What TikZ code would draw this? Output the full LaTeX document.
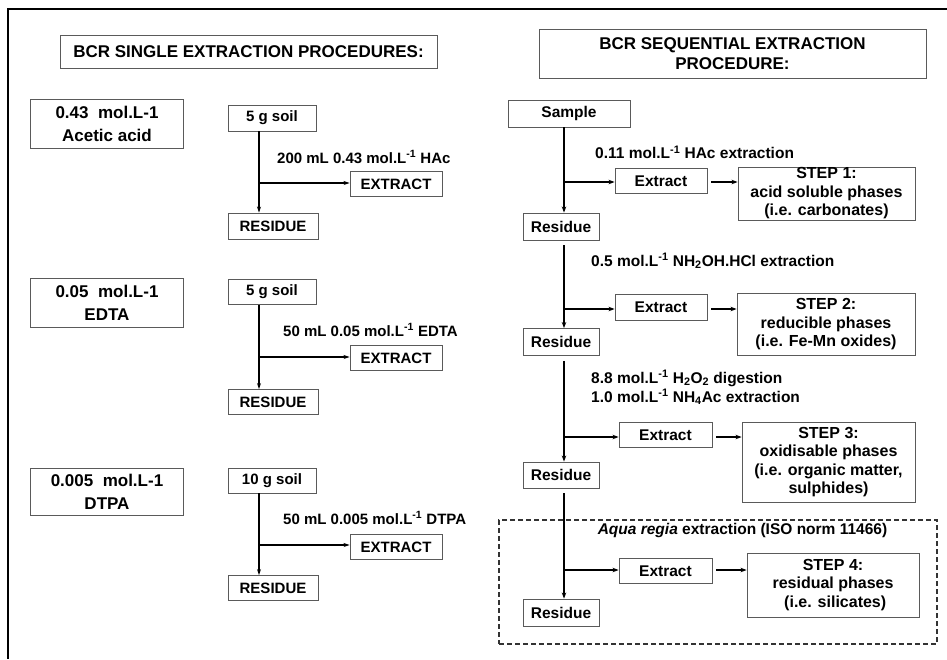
\documentclass[tikz,border=0pt]{standalone}
\usepackage{fontspec}
\setmainfont{Liberation Sans}
\usetikzlibrary{arrows.meta}
\definecolor{boxgray}{HTML}{5A5A5A}
\begin{document}
\begin{tikzpicture}[x=1pt,y=-1pt,
  base/.style={draw=boxgray, line width=0.9pt, inner sep=0pt, align=center},
  title/.style={base, font=\fontsize{17}{19.5}\selectfont\bfseries},
  conc/.style={base, font=\fontsize{17}{23}\selectfont\bfseries, minimum width=153pt},
  lbox/.style={base, font=\fontsize{15}{18}\selectfont\bfseries},
  rbox/.style={base, font=\fontsize{15.5}{18}\selectfont\bfseries},
  stepbox/.style={base, font=\fontsize{16}{18.5}\selectfont\bfseries},
  lbl/.style={inner sep=0pt, anchor=west, align=left, font=\fontsize{15}{19}\selectfont\bfseries},
  rlbl/.style={lbl, font=\fontsize{15.5}{19}\selectfont\bfseries},
  lline/.style={line width=1.3pt, -{Stealth[length=6pt,width=4pt]}},
  rline/.style={line width=2.1pt, -{Stealth[length=6pt,width=4.5pt]}},
  rarrow/.style={line width=1.6pt, -{Stealth[length=6pt,width=4.5pt]}}
]
\useasboundingbox (0,0) rectangle (947,659);
% frame
\draw[line width=1.3pt] (947,9) -- (8,9) -- (8,659);

% ---------------- left column ----------------
\node[title, minimum width=377pt, minimum height=33pt] (t1) at (248.5,51.5) {BCR SINGLE EXTRACTION PROCEDURES:};

\node[conc, minimum height=49pt] (c1) at (107,123.5) {0.43\ \ mol.L-1\\Acetic acid};
\node[conc, minimum height=49pt] (c2) at (107,302.5) {0.05\ \ mol.L-1\\EDTA};
\node[conc, minimum height=47pt] (c3) at (107,491.5) {0.005\ \ mol.L-1\\DTPA};

% row 1
\node[lbox, minimum width=88pt, minimum height=26pt] (s1) at (272,118) {5 g soil};
\node[lbox, minimum width=92pt, minimum height=25pt] (e1) at (396,184) {EXTRACT};
\node[lbox, minimum width=90pt, minimum height=26pt] (r1) at (273,226) {RESIDUE};
\coordinate (j1) at (259,183);
\node[lbl] (l1) at (277,157) {200 mL 0.43 mol.L\textsuperscript{-1} HAc};
\draw[lline] (s1.south -| j1) -- (r1.north -| j1);
\draw[lline] (j1) -- (j1 -| e1.west);

% row 2
\node[lbox, minimum width=88pt, minimum height=25pt] (s2) at (272,292) {5 g soil};
\node[lbox, minimum width=92pt, minimum height=25pt] (e2) at (396,358) {EXTRACT};
\node[lbox, minimum width=90pt, minimum height=25pt] (r2) at (273,402) {RESIDUE};
\coordinate (j2) at (259,357);
\node[lbl] (l2) at (283,330) {50 mL 0.05 mol.L\textsuperscript{-1} EDTA};
\draw[lline] (s2.south -| j2) -- (r2.north -| j2);
\draw[lline] (j2) -- (j2 -| e2.west);

% row 3
\node[lbox, minimum width=88pt, minimum height=25pt] (s3) at (272,480.5) {10 g soil};
\node[lbox, minimum width=92pt, minimum height=25pt] (e3) at (396,547) {EXTRACT};
\node[lbox, minimum width=90pt, minimum height=25pt] (r3) at (273,588) {RESIDUE};
\coordinate (j3) at (259,545);
\node[lbl] (l3) at (283,518) {50 mL 0.005 mol.L\textsuperscript{-1} DTPA};
\draw[lline] (s3.south -| j3) -- (r3.north -| j3);
\draw[lline] (j3) -- (j3 -| e3.west);

% ---------------- right column ----------------
\node[title, minimum width=387pt, minimum height=49pt] (t2) at (732.5,53.5) {BCR SEQUENTIAL EXTRACTION\\PROCEDURE:};

% dashed frame for step 4
\node[draw=black!80, line width=1.4pt, dash pattern=on 5pt off 3pt, minimum width=438pt, minimum height=124pt, inner sep=0pt] (aq) at (718,582) {};
\node[inner sep=0pt, font=\fontsize{15.5}{18}\selectfont\bfseries] (aqt) at (742.5,530) {\textit{Aqua regia} extraction (ISO norm 11466)};

\node[rbox, minimum width=122pt, minimum height=27pt] (sa) at (569,113.5) {Sample};

% step 1
\node[rbox, minimum width=92pt, minimum height=25pt] (ex1) at (661,181) {Extract};
\node[stepbox, minimum width=177pt, minimum height=53pt] (st1) at (826.5,193.5) {STEP 1:\\acid soluble phases\\(i.e. carbonates)};
\node[rbox, minimum width=76pt, minimum height=27pt] (ra1) at (561,226.5) {Residue};
\coordinate (J1) at (564,182);
\node[rlbl] (la1) at (595,152) {0.11 mol.L\textsuperscript{-1} HAc extraction};

% step 2
\node[rbox, minimum width=92pt, minimum height=26pt] (ex2) at (661,307) {Extract};
\node[stepbox, minimum width=178pt, minimum height=62pt] (st2) at (826,324.5) {STEP 2:\\reducible phases\\(i.e. Fe-Mn oxides)};
\node[rbox, minimum width=76pt, minimum height=27pt] (ra2) at (561,342) {Residue};
\coordinate (J2) at (564,309);
\node[rlbl] (la2) at (591,261) {0.5 mol.L\textsuperscript{-1} NH\textsubscript{2}OH.HCl extraction};

% step 3
\node[rbox, minimum width=93pt, minimum height=25pt] (ex3) at (665.5,435) {Extract};
\node[stepbox, minimum width=173pt, minimum height=80pt] (st3) at (828.5,462) {STEP 3:\\oxidisable phases\\(i.e. organic matter,\\sulphides)};
\node[rbox, minimum width=76pt, minimum height=26pt] (ra3) at (561,475) {Residue};
\coordinate (J3) at (564,437);
\node[rlbl] (la3) at (591,387.5) {8.8 mol.L\textsuperscript{-1} H\textsubscript{2}O\textsubscript{2} digestion\\1.0 mol.L\textsuperscript{-1} NH\textsubscript{4}Ac extraction};

% step 4
\node[rbox, minimum width=93pt, minimum height=25pt] (ex4) at (665.5,571) {Extract};
\node[stepbox, minimum width=172pt, minimum height=64pt] (st4) at (833,585) {STEP 4:\\residual phases\\\ (i.e. silicates)};
\node[rbox, minimum width=76pt, minimum height=27pt] (ra4) at (561,612.5) {Residue};
\coordinate (J4) at (564,570);

% connectors right
\draw[rline] (sa.south -| J1) -- (ra1.north -| J1);
\draw[rline, shorten <=5pt] (ra1.south -| J2) -- (ra2.north -| J2);
\draw[rline, shorten <=5pt] (ra2.south -| J3) -- (ra3.north -| J3);
\draw[rline, shorten <=5pt] (ra3.south -| J4) -- (ra4.north -| J4);

\draw[rarrow] (J1) -- (J1 -| ex1.west);
\draw[rarrow] (J2) -- (J2 -| ex2.west);
\draw[rarrow] (J3) -- (J3 -| ex3.west);
\draw[rarrow] (J4) -- (J4 -| ex4.west);

\draw[rarrow, shorten <=4pt] (ex1.east |- J1) -- (J1 -| st1.west);
\draw[rarrow, shorten <=4pt] (ex2.east |- J2) -- (J2 -| st2.west);
\draw[rarrow, shorten <=4pt] (ex3.east |- J3) -- (J3 -| st3.west);
\draw[rarrow, shorten <=4pt] (ex4.east |- J4) -- (J4 -| st4.west);
\end{tikzpicture}
\end{document}
